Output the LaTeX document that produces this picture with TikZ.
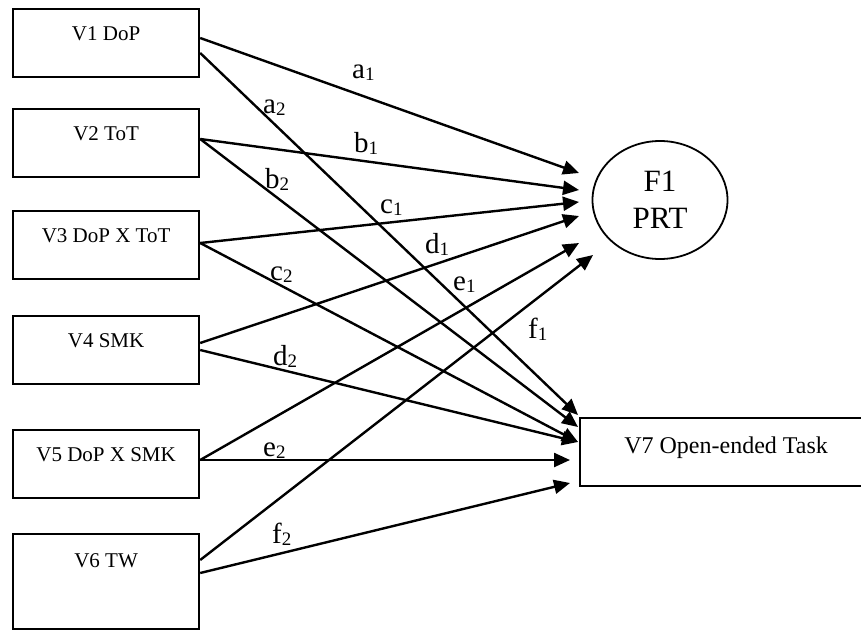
\documentclass[tikz,border=0pt]{standalone}
\usepackage{fontspec}
\setmainfont{Liberation Serif}
\usetikzlibrary{arrows.meta,shapes.geometric,calc}
\newcommand\lsub[1]{\raisebox{-2pt}{\fontsize{19}{19}\selectfont #1}}
\begin{document}
\begin{tikzpicture}[x=1pt,y=-1pt,
  box/.style={draw,line width=2.2pt,inner sep=0pt,anchor=north west,minimum width=186pt,
    text height=31pt,text depth=37pt,font=\fontsize{21}{25}\selectfont},
  conn/.style={line width=2.4pt,-{Triangle[length=16pt,width=14pt]}},
  lab/.style={anchor=base west,inner sep=0pt,font=\fontsize{29}{30}\selectfont}]
\clip (0,0) rectangle (861,629);
\fill[white] (0,0) rectangle (861,629);
% left boxes
\node[box] (v1) at (12,8) {V1 DoP};
\node[box] (v2) at (12,108) {V2 ToT};
\node[box] (v3) at (12,210) {V3 DoP X ToT};
\node[box] (v4) at (12,315) {V4 SMK};
\node[box] (v5) at (12,429) {V5 DoP X SMK};
\node[box,text height=33pt,text depth=62pt] (v6) at (12,533) {V6 TW};
% right nodes
\node[draw,ellipse,line width=1.8pt,minimum width=135pt,minimum height=118pt,inner sep=0pt,
  align=center,font=\fontsize{31}{37}\selectfont] (f1) at (660,200) {F1\\PRT};
\node[box,minimum width=292pt,text height=35pt,text depth=33pt,font=\fontsize{24}{28}\selectfont]
  (v7) at (579,417) {V7 Open-ended Task};
% arrow tips
\coordinate (ta1) at (579,173);
\coordinate (tb1) at (579,190);
\coordinate (tc1) at (579,202);
\coordinate (td1) at (579,216);
\coordinate (te1) at (579,243);
\coordinate (tf1) at (593,255);
\coordinate (ta2) at (578,415);
\coordinate (tb2) at (578,427);
\coordinate (tc2) at (578,442);
\coordinate (td2) at (578,442);
\coordinate (te2) at (570,460);
\coordinate (tf2) at (570,483);
% connectors
\draw[conn] ($(v1.north east)+(0,30)$) -- (ta1);
\draw[conn] ($(v1.north east)+(0,45)$) -- (ta2);
\draw[conn] ($(v2.north east)+(0,31)$) -- (tb1);
\draw[conn] ($(v2.north east)+(0,31)$) -- (tb2);
\draw[conn] ($(v3.north east)+(0,33)$) -- (tc1);
\draw[conn] ($(v3.north east)+(0,33)$) -- (tc2);
\draw[conn] ($(v4.north east)+(0,28)$) -- (td1);
\draw[conn] ($(v4.north east)+(0,35)$) -- (td2);
\draw[conn] ($(v5.north east)+(0,31)$) -- (te1);
\draw[conn] ($(v5.north east)+(0,31)$) -- (te2);
\draw[conn] ($(v6.north east)+(0,27)$) -- (tf1);
\draw[conn] ($(v6.north east)+(0,40)$) -- (tf2);
% labels
\node[lab] (la1) at (352,78) {a\lsub{1}};
\node[lab] (la2) at (263,113) {a\lsub{2}};
\node[lab] (lb1) at (354,152) {b\lsub{1}};
\node[lab] (lb2) at (265,188) {b\lsub{2}};
\node[lab] (lc1) at (380,213) {c\lsub{1}};
\node[lab] (lc2) at (270,280) {c\lsub{2}};
\node[lab] (ld1) at (425,253) {d\lsub{1}};
\node[lab] (le1) at (453,290) {e\lsub{1}};
\node[lab] (lf1) at (528,338) {f\lsub{1}};
\node[lab] (ld2) at (273,365) {d\lsub{2}};
\node[lab] (le2) at (263,456) {e\lsub{2}};
\node[lab] (lf2) at (272,543) {f\lsub{2}};
\end{tikzpicture}
\end{document}
